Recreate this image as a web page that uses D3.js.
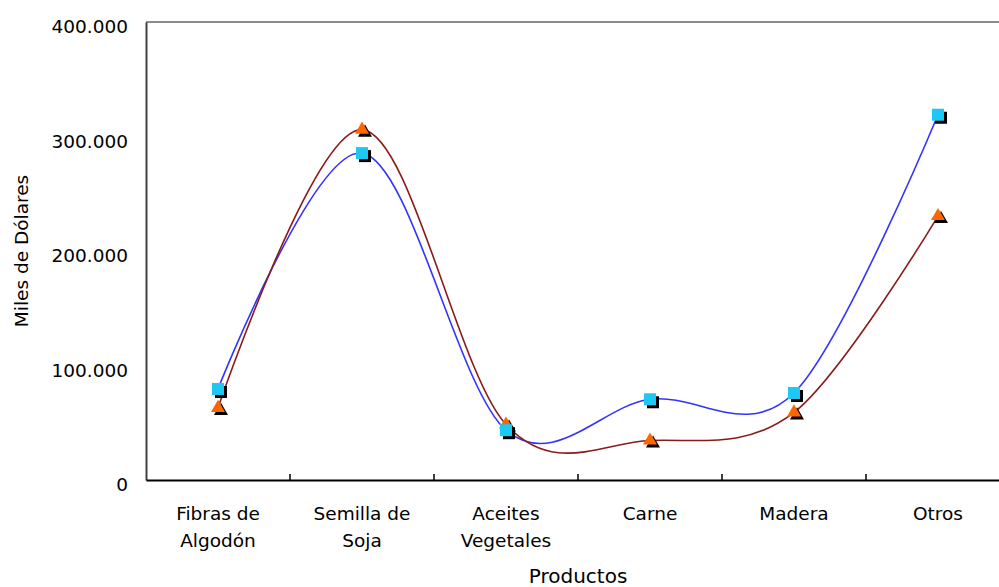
<!DOCTYPE html>
<html>
<head>
<meta charset="utf-8">
<script src="https://cdn.jsdelivr.net/npm/d3@7"></script>
<style>
  body { margin:0; background:#fff; }
  svg text { font-family:"DejaVu Sans", Verdana, sans-serif; fill:#000; }
</style>
</head>
<body>
<div id="vis"></div>
<script>
/* Data */
const categorias = ["Fibras de Algodón","Semilla de Soja","Aceites Vegetales","Carne","Madera","Otros"];
const serieAzul    = [79500, 285500, 43500, 70500, 76000, 319000];   // cuadrados
const serieNaranja = [63000, 306000, 48500, 34500, 59000, 230500];   // triangulos
const yTicks = [0, 100000, 200000, 300000, 400000];

/* Layout */
const W = 999, H = 587;
const m = {left:146, top:22};
const pw = 864, ph = 458;

const fmt = d3.formatLocale({decimal:",", thousands:".", grouping:[3], currency:["$",""]}).format(",");

const svg = d3.select("#vis").append("svg").attr("width",W).attr("height",H);
const g = svg.append("g").attr("transform",`translate(${m.left},${m.top})`);

const x = d3.scaleBand().domain(categorias).range([0,pw]).padding(0);
const y = d3.scaleLinear().domain([0,400000]).range([ph,0]);
const cx = d => x(d) + x.bandwidth()/2;

/* plot frame: top grey, left dark */
g.append("line").attr("x1",0).attr("x2",pw).attr("y1",0).attr("y2",0)
  .attr("stroke","#8c8c8c").attr("stroke-width",2);
g.append("line").attr("x1",pw).attr("x2",pw).attr("y1",0).attr("y2",ph)
  .attr("stroke","#8c8c8c").attr("stroke-width",2);

/* y axis */
const yAxis = g.append("g").call(d3.axisLeft(y).tickValues(yTicks).tickSize(0).tickPadding(18).tickFormat(fmt));
yAxis.select(".domain").attr("stroke","#404040").attr("stroke-width",2);
yAxis.selectAll("text").attr("font-size","18.5px").attr("dy","0.58em")
  .attr("font-family","DejaVu Sans").attr("fill","#000");

/* x axis */
const xAxis = g.append("g").attr("transform",`translate(0,${ph})`)
  .call(d3.axisBottom(x).tickSize(0).tickPadding(0));
xAxis.select(".domain").attr("stroke","#000").attr("stroke-width",2);
xAxis.selectAll(".tick text").each(function(d){
  const t = d3.select(this).text("").attr("font-size","18.5px")
    .attr("font-family","DejaVu Sans").attr("fill","#000").attr("y",40).attr("dy",0);
  const i = d.lastIndexOf(" ");
  const lines = i > 0 ? [d.slice(0,i), d.slice(i+1)] : [d];
  lines.forEach((s,k) => t.append("tspan").attr("x",0).attr("dy", k ? 26.5 : 0).text(s));
});
/* boundary ticks (pointing up) */
g.append("g").selectAll("line").data(categorias.slice(1)).join("line")
  .attr("x1",d=>x(d)).attr("x2",d=>x(d)).attr("y1",ph).attr("y2",ph-6)
  .attr("stroke","#000").attr("stroke-width",1.5);

/* titles */
svg.append("text").attr("x",m.left+pw/2).attr("y",583).attr("text-anchor","middle")
  .attr("font-size","20px").text("Productos");
svg.append("text").attr("transform",`translate(28,${m.top+ph/2}) rotate(-90)`)
  .attr("text-anchor","middle").attr("font-size","18.5px").text("Miles de Dólares");

/* lines */
const line = d3.line().x((d,i)=>cx(categorias[i])).y(d=>y(d)).curve(d3.curveCardinal.tension(0));
g.append("path").datum(serieAzul).attr("d",line).attr("fill","none")
  .attr("stroke","#3333ff").attr("stroke-width",1.6);
g.append("path").datum(serieNaranja).attr("d",line).attr("fill","none")
  .attr("stroke","#8b1a1a").attr("stroke-width",1.6);

/* markers with black shadow */
const sq = 12, off = 3;
const tri = d3.symbol().type(d3.symbolTriangle).size(85);

const mk = g.append("g");
serieNaranja.forEach((v,i)=>{
  const px = cx(categorias[i]), py = y(v);
  mk.append("path").attr("d",tri()).attr("transform",`translate(${px+off},${py+off})`).attr("fill","#000");
  mk.append("path").attr("d",tri()).attr("transform",`translate(${px},${py})`).attr("fill","#ff6600");
});
serieAzul.forEach((v,i)=>{
  const px = cx(categorias[i]), py = y(v);
  mk.append("rect").attr("x",px-sq/2+off).attr("y",py-sq/2+off).attr("width",sq).attr("height",sq).attr("fill","#000");
  mk.append("rect").attr("x",px-sq/2).attr("y",py-sq/2).attr("width",sq).attr("height",sq).attr("fill","#1ec8f5");
});
</script>
</body>
</html>
